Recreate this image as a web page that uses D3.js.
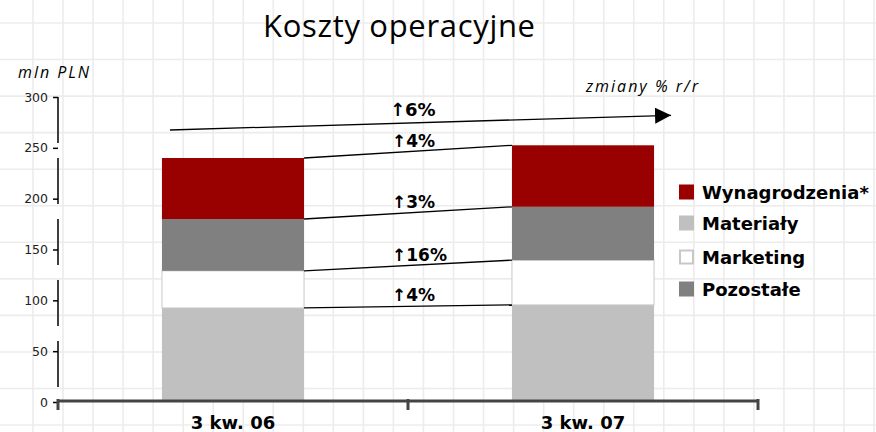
<!DOCTYPE html>
<html>
<head>
<meta charset="utf-8">
<style>
  body { margin: 0; background: #fff; }
  svg { display: block; }
  .tick text { font-family: "DejaVu Sans", Verdana, sans-serif; font-size: 12.5px; fill: #222; }
</style>
<title>Koszty operacyjne</title>
</head>
<body>
<svg id="graph"></svg>
<script src="https://cdn.jsdelivr.net/npm/d3@7"></script>
<script>

// data (mln PLN)
var quarters = ["3 kw. 06", "3 kw. 07"];
var seriesNames = ["Materiały", "Marketing", "Pozostałe", "Wynagrodzenia*"];   // bottom to top
var materialy     = [92.5, 95.5];
var marketing     = [36.5, 44];
var pozostale     = [51, 52.5];
var wynagrodzenia = [60, 60.5];
var changes = ["↑4%", "↑16%", "↑3%", "↑4%"];   // per segment, bottom to top
var totalChange = "↑6%";
var legendOrder = ["Wynagrodzenia*", "Materiały", "Marketing", "Pozostałe"];
var yTicks = [0, 50, 100, 150, 200, 250, 300];

var W = 876, H = 432;
var colors = {
  "Wynagrodzenia*": "#990000",
  "Materiały": "#c0c0c0",
  "Marketing": "#ffffff",
  "Pozostałe": "#808080"
};

var svg = d3.select("#graph").attr("width", W).attr("height", H);

// graph paper background
var grid = svg.append("g").attr("stroke", "#ececec").attr("stroke-width", 1.6);
d3.range(-1, 28).forEach(function(k) {
  var gx = 63 + 30.04 * k;
  grid.append("line").attr("x1", gx).attr("x2", gx).attr("y1", 0).attr("y2", H);
});
d3.range(0, 12).forEach(function(k) {
  var gy = 23 + 36.55 * k;
  grid.append("line").attr("x1", 0).attr("x2", W).attr("y1", gy).attr("y2", gy);
});

var x = d3.scaleBand()
  .domain(quarters)
  .range([58, 758])
  .paddingInner(0.594)
  .paddingOuter(0.297);

var y = d3.scaleLinear()
  .domain([0, 300])
  .range([402, 97]);

var rows = quarters.map(function(q, i) {
  return {
    q: q,
    "Materiały": materialy[i],
    "Marketing": marketing[i],
    "Pozostałe": pozostale[i],
    "Wynagrodzenia*": wynagrodzenia[i]
  };
});

var stacked = d3.stack().keys(seriesNames)(rows);

// bars
svg.append("g").selectAll("g")
  .data(stacked)
  .enter().append("g")
    .attr("fill", d => colors[d.key])
    .attr("stroke", d => d.key == "Marketing" ? "#c8c8c8" : "none")
  .selectAll("rect")
  .data(d => d)
  .enter().append("rect")
    .attr("x", d => x(d.data.q))
    .attr("width", x.bandwidth())
    .attr("y", d => y(d[1]))
    .attr("height", d => y(d[0]) - y(d[1]));

// connectors between segment tops + change labels
var x1 = x(quarters[0]) + x.bandwidth(),
    x2 = x(quarters[1]);
var conn = svg.append("g");
stacked.forEach(function(s, i) {
  var ya = y(s[0][1]), yb = y(s[1][1]);
  conn.append("line")
    .attr("x1", x1).attr("y1", ya)
    .attr("x2", x2).attr("y2", yb)
    .attr("stroke", "#000").attr("stroke-width", 1.3);
  conn.append("text")
    .text(changes[i])
    .attr("x", 392)
    .attr("y", (ya + yb) / 2 - 5)
    .attr("font-family", "DejaVu Sans, Verdana, sans-serif")
    .attr("font-weight", "bold")
    .attr("font-size", 17);
});

// total arrow
var totals = rows.map(r => seriesNames.reduce((a, k) => a + r[k], 0));
svg.append("defs").append("marker")
  .attr("id", "head")
  .attr("viewBox", "0 0 10 10")
  .attr("refX", 10).attr("refY", 5)
  .attr("markerWidth", 16).attr("markerHeight", 16)
  .attr("markerUnits", "userSpaceOnUse")
  .attr("orient", "auto")
  .append("path").attr("d", "M0,0L10,5L0,10Z").attr("fill", "#000");

var ax1 = x(quarters[0]) + 8, ay1 = y(totals[0]) - 28,
    ax2 = x(quarters[1]) + x.bandwidth() + 17, ay2 = y(totals[1]) - 30;
svg.append("line")
  .attr("x1", ax1).attr("y1", ay1)
  .attr("x2", ax2).attr("y2", ay2)
  .attr("stroke", "#000").attr("stroke-width", 1.3)
  .attr("marker-end", "url(#head)");
svg.append("text")
  .text(totalChange)
  .attr("x", 390)
  .attr("y", 116)
  .attr("font-family", "DejaVu Sans, Verdana, sans-serif")
  .attr("font-weight", "bold")
  .attr("font-size", 18);

svg.append("text")
  .text("zmiany % r/r")
  .attr("x", 586)
  .attr("y", 92)
  .attr("font-family", "Comic Sans MS, Open Sans, sans-serif")
  .attr("font-style", "italic")
  .attr("font-size", 16)
  .attr("textLength", 112);

// y axis
var yaxis = svg.append("g").attr("transform", "translate(58,0)");
yaxis.call(d3.axisLeft(y).tickValues(yTicks).tickSize(5).tickPadding(5).tickSizeOuter(0));
yaxis.select(".domain").remove();
yaxis.selectAll(".tick line").attr("stroke", "#000").attr("stroke-width", 1.5);
yaxis.append("line")
  .attr("x1", 0).attr("x2", 0)
  .attr("y1", y(300)).attr("y2", y(0))
  .attr("stroke", "#000").attr("stroke-width", 1.5)
  .attr("stroke-dasharray", "46,15");

svg.append("text")
  .text("mln PLN")
  .attr("x", 18)
  .attr("y", 78)
  .attr("font-family", "Comic Sans MS, Open Sans, sans-serif")
  .attr("font-style", "italic")
  .attr("font-size", 16)
  .attr("textLength", 71);

// x axis
var xaxis = svg.append("g").attr("transform", "translate(0,401)");
xaxis.append("line")
  .attr("x1", 58).attr("x2", 758)
  .attr("stroke", "#444").attr("stroke-width", 3);
xaxis.selectAll(".xt")
  .data([58, 408, 758])
  .enter().append("line")
    .attr("x1", d => d).attr("x2", d => d)
    .attr("y1", -2).attr("y2", 9)
    .attr("stroke", "#444").attr("stroke-width", 3);
xaxis.selectAll(".xl")
  .data(quarters)
  .enter().append("text")
    .text(d => d)
    .attr("x", d => x(d) + x.bandwidth() / 2)
    .attr("y", 28)
    .attr("text-anchor", "middle")
    .attr("font-family", "DejaVu Sans, Verdana, sans-serif")
    .attr("font-weight", "bold")
    .attr("font-size", 18);

// title
svg.append("text")
  .text("Koszty operacyjne")
  .attr("x", 263)
  .attr("y", 37)
  .attr("font-family", "Comic Sans MS, Open Sans, sans-serif")
  .attr("font-size", 31)
  .attr("textLength", 272);

// legend
var legend = svg.append("g").selectAll("g")
  .data(legendOrder)
  .enter().append("g")
    .attr("transform", (d, i) => "translate(679," + [192, 223, 257, 289][i] + ")");
legend.append("rect")
  .attr("x", d => d == "Marketing" ? 1 : 0)
  .attr("y", d => d == "Marketing" ? -6.5 : -7.5)
  .attr("width", d => d == "Marketing" ? 13 : 15)
  .attr("height", d => d == "Marketing" ? 13 : 15)
  .attr("fill", d => colors[d])
  .attr("stroke", d => d == "Marketing" ? "#c8c8c8" : "none")
  .attr("stroke-width", 2);
legend.append("text")
  .text(d => d)
  .attr("x", 23)
  .attr("y", 6.5)
  .attr("font-family", "DejaVu Sans, Verdana, sans-serif")
  .attr("font-weight", "bold")
  .attr("font-size", 18);

</script>
</body>
</html>
